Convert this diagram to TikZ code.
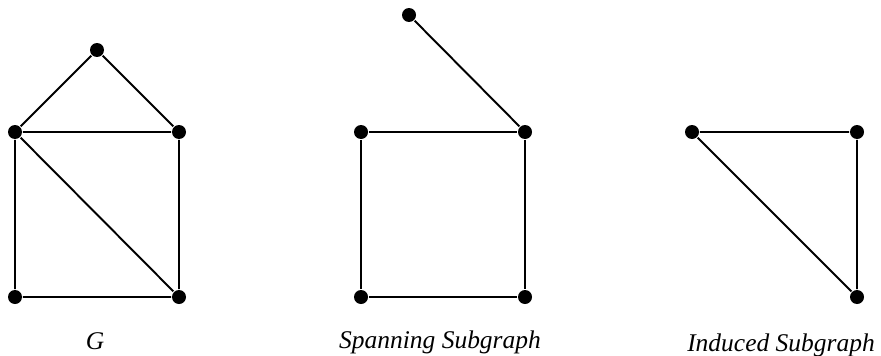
\documentclass[tikz,border=0pt]{standalone}
\usepackage{fontspec}
\setmainfont{Liberation Serif}
\usetikzlibrary{positioning}

\begin{document}
\begin{tikzpicture}[x=0.02cm, y=-0.02cm, line width=1.1pt,
		vertex/.style={circle, fill, inner sep=0pt, minimum size=0.28cm},
		caption/.style={anchor=base, font=\fontsize{14.5}{17}\selectfont\itshape}]
		\useasboundingbox (0,0) rectangle (881,355);
		% graph G
		\node[vertex] (top) at (97,50) {};
		\node[vertex] (gtl) at (15,132) {};
		\node[vertex] (gtr) at (179,132) {};
		\node[vertex] (gbl) at (15,297) {};
		\node[vertex] (gbr) at (179,297) {};
		\draw (gtl) -- (top) -- (gtr) -- (gtl) -- (gbl) -- (gbr) -- (gtr);
		\draw (gtl) -- (gbr);
		\node[caption] (gname) at (95,349) {G};
		% spanning subgraph
		\node[vertex] (stop) at (409,15) {};
		\node[vertex] (stl) at (361,132) {};
		\node[vertex] (str) at (525,132) {};
		\node[vertex] (sbl) at (361,297) {};
		\node[vertex] (sbr) at (525,297) {};
		\draw (stop) -- (str);
		\draw (stl) -- (str) -- (sbr) -- (sbl) -- (stl);
		\node[caption] (sname) at (440,348) {Spanning Subgraph};
		% induced subgraph
		\node[vertex] (itl) at (692,132) {};
		\node[vertex] (itr) at (857,132) {};
		\node[vertex] (ibr) at (857,297) {};
		\draw (itl) -- (itr) -- (ibr) -- (itl);
		\node[caption] (iname) at (781,351) {Induced Subgraph};
	\end{tikzpicture}
\end{document}
